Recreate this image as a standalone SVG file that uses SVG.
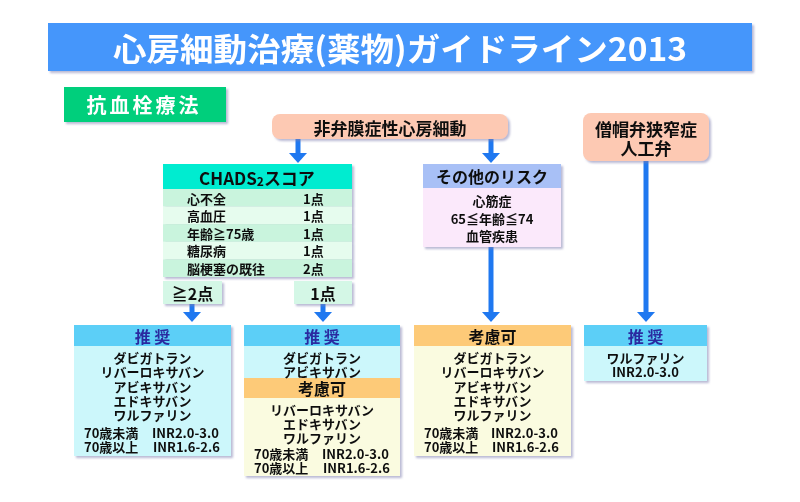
<svg xmlns="http://www.w3.org/2000/svg" width="800" height="502" viewBox="0 0 800 502">
<defs>
<filter id="sh" x="-10%" y="-10%" width="120%" height="130%">
<feDropShadow dx="2" dy="2" stdDeviation="1.2" flood-color="#8080b0" flood-opacity="0.55"/>
</filter>
</defs>
<style>
text{font-family:"Noto Sans CJK JP","Noto Sans",sans-serif;dominant-baseline:central;fill:#111;}
.c{text-anchor:middle;}
.b{font-size:13px;font-weight:bold;}
.h{font-size:16px;font-weight:bold;}
.rec{fill:#2b2ba0;font-size:16px;font-weight:bold;}
.con{stroke:#1f78f0;stroke-width:5;fill:none;}
.hd{fill:#1f78f0;}
</style>
<rect width="800" height="502" fill="#ffffff"/>

<g id="title" filter="url(#sh)">
<rect x="48" y="23" width="704" height="48" fill="#4596fb"/>
<text x="400" y="47" class="c" textLength="574" lengthAdjust="spacingAndGlyphs" style="fill:#fff;font-size:32px;font-weight:bold;">心房細動治療(薬物)ガイドライン2013</text>
</g>

<g id="section" filter="url(#sh)">
<rect x="64" y="87" width="162" height="35" fill="#00cf7b"/>
<text x="144" y="104" class="c" style="fill:#fff;font-size:20px;font-weight:bold;letter-spacing:3px;">抗血栓療法</text>
</g>

<g id="connectors">
<line class="con" x1="298" y1="139" x2="298" y2="154"/>
<polygon class="hd" points="289,153 307,153 298,163"/>
<line class="con" x1="491" y1="139" x2="491" y2="154"/>
<polygon class="hd" points="482,153 500,153 491,163"/>
<line class="con" x1="192" y1="304" x2="192" y2="313"/>
<polygon class="hd" points="183,312 201,312 192,322"/>
<line class="con" x1="323" y1="304" x2="323" y2="313"/>
<polygon class="hd" points="314,312 332,312 323,322"/>
<line class="con" x1="491" y1="247" x2="491" y2="313"/>
<polygon class="hd" points="482,312 500,312 491,322"/>
<line class="con" x1="646" y1="161" x2="646" y2="313"/>
<polygon class="hd" points="637,312 655,312 646,322"/>
</g>

<g id="nvaf" filter="url(#sh)">
<rect x="272" y="114" width="236" height="25" rx="8" fill="#fdc9b3"/>
<text x="390" y="127" class="c" style="font-size:17px;font-weight:bold;">非弁膜症性心房細動</text>
</g>

<g id="valve" filter="url(#sh)">
<rect x="583" y="113" width="126" height="48" rx="8" fill="#fdc9b3"/>
<text x="646" y="128" class="c" style="font-size:17px;font-weight:bold;">僧帽弁狭窄症</text>
<text x="646" y="147" class="c" style="font-size:17px;font-weight:bold;">人工弁</text>
</g>

<g id="chads" filter="url(#sh)">
<rect x="163" y="164" width="189" height="25" fill="#00ecd0"/>
<rect x="163" y="189" width="189" height="17.6" fill="#c9f4dd"/>
<rect x="163" y="206.6" width="189" height="17.6" fill="#e6fcee"/>
<rect x="163" y="224.2" width="189" height="17.6" fill="#c9f4dd"/>
<rect x="163" y="241.8" width="189" height="17.6" fill="#e6fcee"/>
<rect x="163" y="259.4" width="189" height="17.6" fill="#c9f4dd"/>
<text x="257" y="177" class="c" style="font-size:17px;font-weight:bold;">CHADS<tspan style="font-size:12px;" dy="3">2</tspan><tspan dy="-3">スコア</tspan></text>
<text x="187" y="198" class="b">心不全</text><text x="303" y="198" class="b">1点</text>
<text x="187" y="215.5" class="b">高血圧</text><text x="303" y="215.5" class="b">1点</text>
<text x="187" y="233" class="b">年齢≧75歳</text><text x="303" y="233" class="b">1点</text>
<text x="187" y="250.5" class="b">糖尿病</text><text x="303" y="250.5" class="b">1点</text>
<text x="187" y="268" class="b">脳梗塞の既往</text><text x="303" y="268" class="b">2点</text>
</g>

<g id="ge2" filter="url(#sh)">
<rect x="163" y="281" width="59" height="23" fill="#d4f7e6"/>
<text x="192.5" y="293" class="c" style="font-size:16px;font-weight:bold;">≧2点</text>
</g>

<g id="one" filter="url(#sh)">
<rect x="294" y="281" width="58" height="23" fill="#d4f7e6"/>
<text x="323" y="293" class="c" style="font-size:16px;font-weight:bold;">1点</text>
</g>

<g id="other" filter="url(#sh)">
<rect x="423" y="164" width="138" height="24" fill="#a8c0f6"/>
<rect x="423" y="188" width="138" height="59" fill="#fbe9fb"/>
<text x="492" y="176" class="c h">その他のリスク</text>
<text x="492" y="200" class="c b">心筋症</text>
<text x="492" y="218" class="c b">65≦年齢≦74</text>
<text x="492" y="235" class="c b">血管疾患</text>
</g>

<g id="recA" filter="url(#sh)">
<rect x="74" y="325" width="157" height="21" fill="#5ccff7"/>
<rect x="74" y="346" width="157" height="110" fill="#ccf7fb"/>
<text x="152.5" y="335.5" class="c rec" xml:space="preserve">推 奨</text>
<text x="152.5" y="357" class="c b">ダビガトラン</text>
<text x="152.5" y="371" class="c b">リバーロキサバン</text>
<text x="152.5" y="386" class="c b">アビキサバン</text>
<text x="152.5" y="400" class="c b">エドキサバン</text>
<text x="152.5" y="414" class="c b">ワルファリン</text>
<text x="84" y="432" class="b">70歳未満</text><text x="152" y="432" class="b">INR2.0-3.0</text>
<text x="84" y="446" class="b">70歳以上</text><text x="153" y="446" class="b">INR1.6-2.6</text>
</g>

<g id="recB" filter="url(#sh)">
<rect x="244" y="325" width="156" height="21" fill="#5ccff7"/>
<rect x="244" y="346" width="156" height="32" fill="#ccf7fb"/>
<rect x="244" y="378" width="156" height="20" fill="#fdca78"/>
<rect x="244" y="398" width="156" height="78" fill="#fafbe0"/>
<text x="322" y="335.5" class="c rec" xml:space="preserve">推 奨</text>
<text x="322" y="357" class="c b">ダビガトラン</text>
<text x="322" y="371" class="c b">アビキサバン</text>
<text x="322" y="388" class="c h">考慮可</text>
<text x="322" y="409" class="c b">リバーロキサバン</text>
<text x="322" y="423" class="c b">エドキサバン</text>
<text x="322" y="437" class="c b">ワルファリン</text>
<text x="254" y="453" class="b">70歳未満</text><text x="322" y="453" class="b">INR2.0-3.0</text>
<text x="254" y="467" class="b">70歳以上</text><text x="323" y="467" class="b">INR1.6-2.6</text>
</g>

<g id="recC" filter="url(#sh)">
<rect x="414" y="325" width="157" height="21" fill="#fdca78"/>
<rect x="414" y="346" width="157" height="110" fill="#fafbe0"/>
<text x="492.5" y="335.5" class="c h">考慮可</text>
<text x="492.5" y="357" class="c b">ダビガトラン</text>
<text x="492.5" y="371" class="c b">リバーロキサバン</text>
<text x="492.5" y="386" class="c b">アビキサバン</text>
<text x="492.5" y="400" class="c b">エドキサバン</text>
<text x="492.5" y="414" class="c b">ワルファリン</text>
<text x="424" y="432" class="b">70歳未満</text><text x="491" y="432" class="b">INR2.0-3.0</text>
<text x="424" y="446" class="b">70歳以上</text><text x="492" y="446" class="b">INR1.6-2.6</text>
</g>

<g id="recD" filter="url(#sh)">
<rect x="584" y="325" width="123" height="21" fill="#5ccff7"/>
<rect x="584" y="346" width="123" height="35" fill="#ccf7fb"/>
<text x="645.5" y="335.5" class="c rec" xml:space="preserve">推 奨</text>
<text x="645.5" y="357" class="c b">ワルファリン</text>
<text x="645.5" y="371" class="c b">INR2.0-3.0</text>
</g>
</svg>
